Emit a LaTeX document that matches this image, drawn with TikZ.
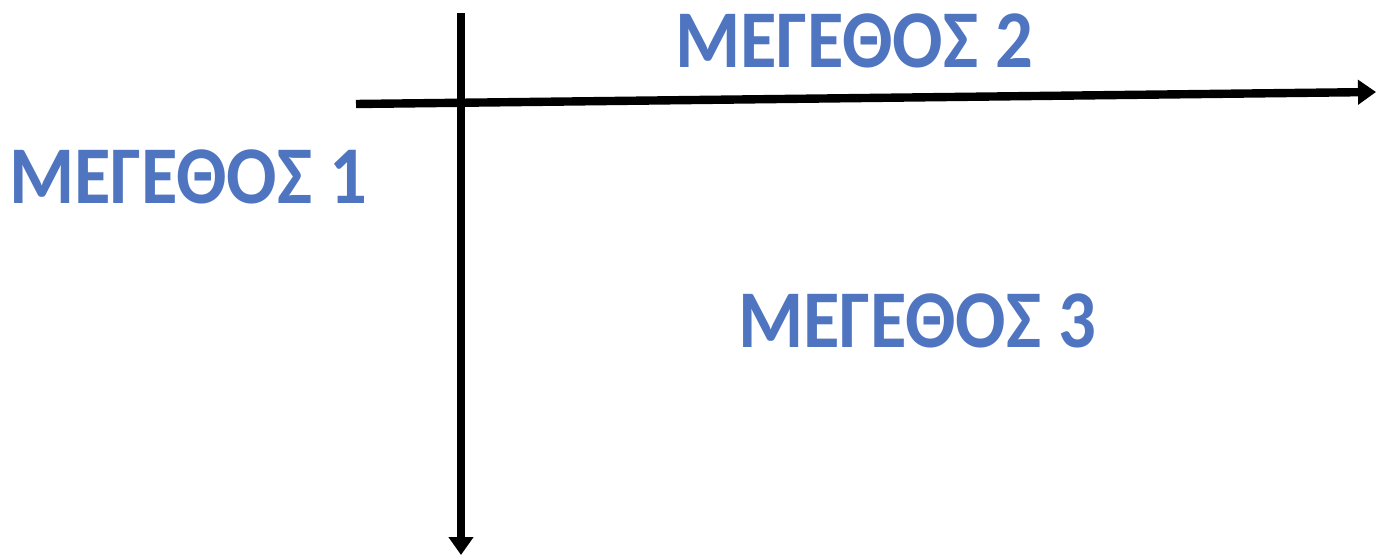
\documentclass[tikz,border=0pt]{standalone}
\usepackage{graphicx}
\usepackage{fontspec}
\setmainfont{Carlito}
\usetikzlibrary{arrows.meta}
\definecolor{lbl}{HTML}{4F75C0}
\newcommand{\labtxt}[1]{\scalebox{0.91}[1]{#1}}
\tikzset{
  axis/.style={line width=4.2pt, -{Triangle[length=9pt,width=12pt]}},
  lab/.style={inner sep=0pt, text=lbl, font=\fontsize{41}{50}\selectfont\bfseries}
}
\begin{document}
\begin{tikzpicture}[x=0.5pt,y=-0.5pt]
\useasboundingbox (0,0) rectangle (1376,555);
\coordinate (hs) at (356,104);
\coordinate (he) at (1376,92);
\coordinate (vs) at (461,13);
\coordinate (ve) at (461,555);
\draw[axis] (hs) -- (he);
\draw[axis] (vs) -- (ve);
\node[lab] (m1) at (188,177) {\labtxt{ΜΕΓΕΘΟΣ 1}};
\node[lab] (m2) at (854,41) {\labtxt{ΜΕΓΕΘΟΣ 2}};
\node[lab] (m3) at (917,321) {\labtxt{ΜΕΓΕΘΟΣ 3}};
\end{tikzpicture}
\end{document}
